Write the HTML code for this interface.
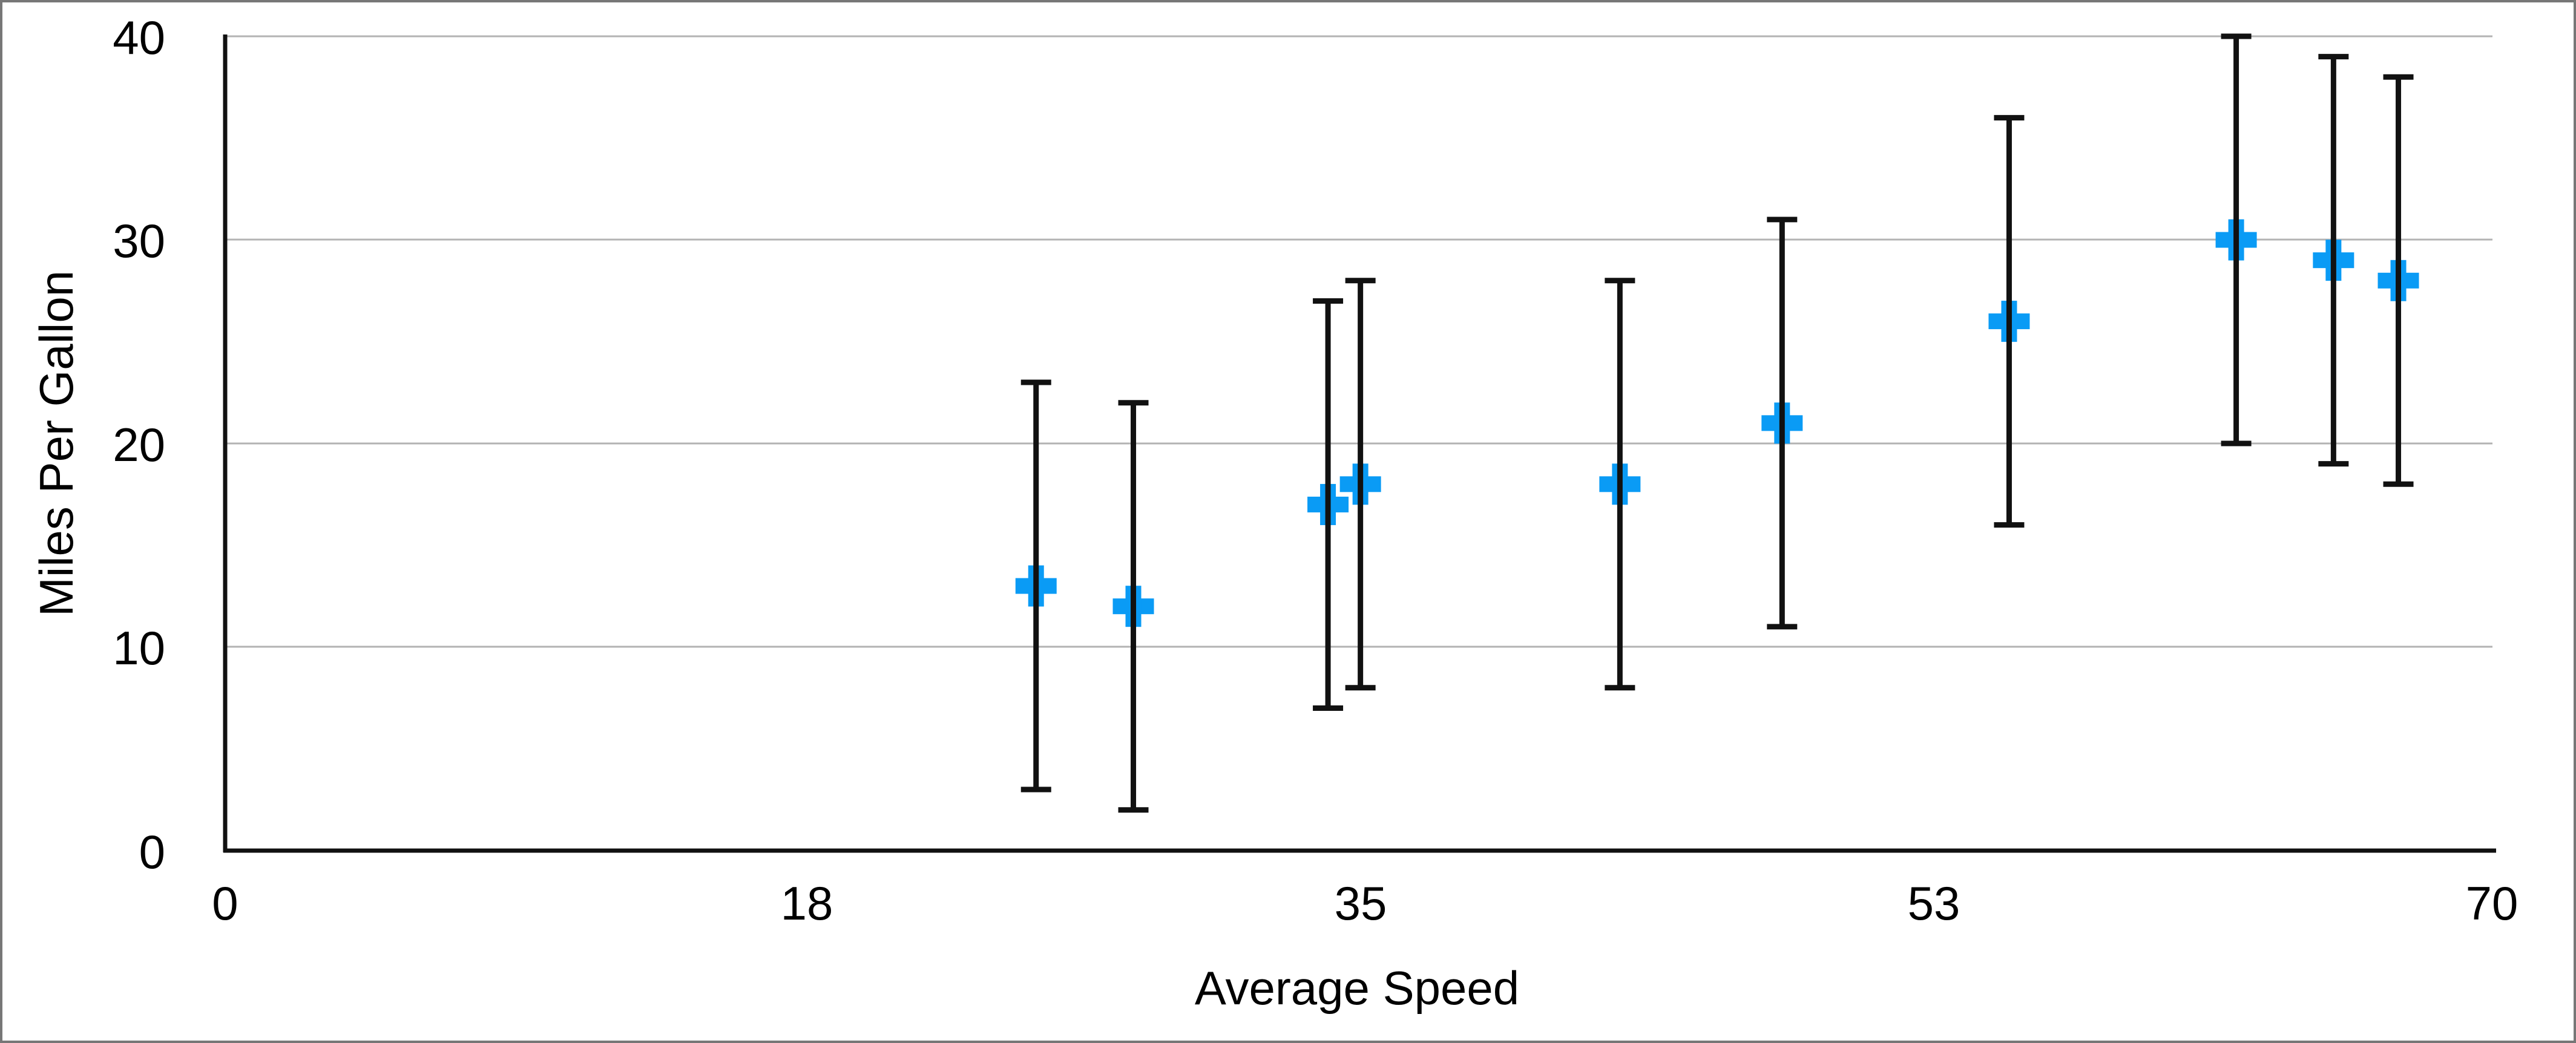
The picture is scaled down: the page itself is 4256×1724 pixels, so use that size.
<!DOCTYPE html>
<html><head><meta charset="utf-8"><style>
html,body{margin:0;padding:0;background:#fff;}
svg{display:block;}
text{font-family:"Liberation Sans",sans-serif;fill:#000;}
</style></head><body>
<svg width="4256" height="1724" viewBox="0 0 4256 1724" xmlns="http://www.w3.org/2000/svg">
<rect x="2" y="2" width="4252" height="1720" fill="#fff" stroke="#777" stroke-width="4"/>
<g stroke="#b3b3b3" stroke-width="3">
<line x1="372" y1="60" x2="4118" y2="60"/>
<line x1="372" y1="396" x2="4118" y2="396"/>
<line x1="372" y1="733" x2="4118" y2="733"/>
<line x1="372" y1="1069" x2="4118" y2="1069"/>
</g>
<line x1="372" y1="57" x2="372" y2="1409" stroke="#111" stroke-width="7"/>
<line x1="369" y1="1406" x2="4124" y2="1406" stroke="#111" stroke-width="7"/>
<g font-size="78" text-anchor="end">
<text x="273" y="89">40</text>
<text x="273" y="425">30</text>
<text x="273" y="762">20</text>
<text x="273" y="1098">10</text>
<text x="273" y="1435">0</text>
</g>
<g font-size="78" text-anchor="middle">
<text x="372" y="1520">0</text>
<text x="1333" y="1520">18</text>
<text x="2248" y="1520">35</text>
<text x="3195" y="1520">53</text>
<text x="4117" y="1520">70</text>
</g>
<text x="2242" y="1660" font-size="78" text-anchor="middle">Average Speed</text>
<text transform="translate(120,733) rotate(-90)" font-size="78" text-anchor="middle">Miles Per Gallon</text>
<g id="pts"></g>
</svg>
<script>
(function(){
var d=[[25,13],[28,12],[34,17],[35,18],[43,18],[48,21],[55,26],[62,30],[65,29],[67,28]];
var g=document.getElementById('pts'),s='';
function X(v){return 372+v*53.59;}function Y(v){return 1406-v*33.65;}
d.forEach(function(p){
var x=X(p[0]),y=Y(p[1]);
s+='<rect x="'+(x-34)+'" y="'+(y-13)+'" width="68" height="26" fill="#0a9bf5"/>';
s+='<rect x="'+(x-13)+'" y="'+(y-34)+'" width="26" height="68" fill="#0a9bf5"/>';
var t=Y(p[1]+10),b=Y(p[1]-10);
s+='<line x1="'+x+'" y1="'+t+'" x2="'+x+'" y2="'+b+'" stroke="#111" stroke-width="9"/>';
s+='<line x1="'+(x-25)+'" y1="'+t+'" x2="'+(x+25)+'" y2="'+t+'" stroke="#111" stroke-width="9"/>';
s+='<line x1="'+(x-25)+'" y1="'+b+'" x2="'+(x+25)+'" y2="'+b+'" stroke="#111" stroke-width="9"/>';
});
g.innerHTML=s;
})();
</script>
</body></html>
